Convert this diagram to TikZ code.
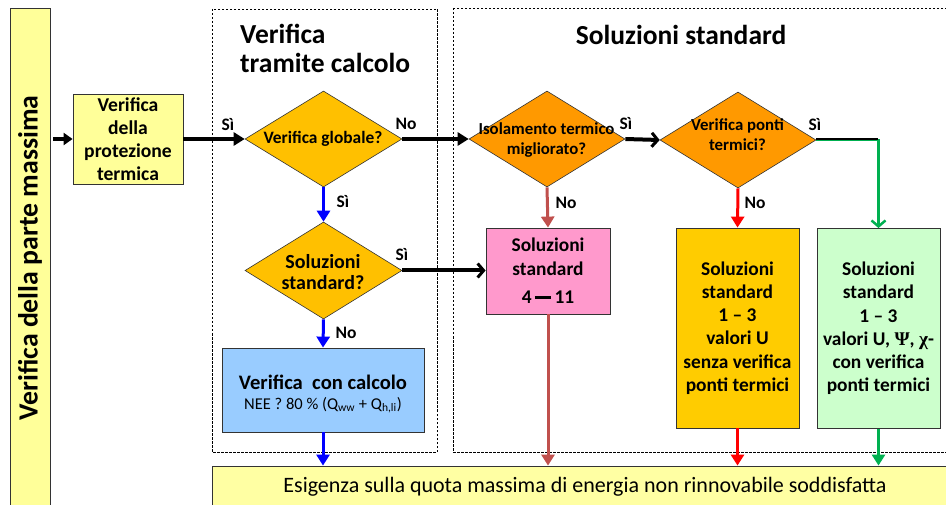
\documentclass[tikz,border=0pt]{standalone}
\usepackage{fontspec}
\setmainfont{Carlito}
\newfontfamily\grkfont{Liberation Serif}
\usetikzlibrary{arrows.meta,shapes.geometric}
\definecolor{barY}{HTML}{FFFF99}
\definecolor{botY}{HTML}{FFFFA3}
\definecolor{dGold}{HTML}{FFC000}
\definecolor{dOrange}{HTML}{FF9900}
\definecolor{bPink}{HTML}{FF99CC}
\definecolor{bGold}{HTML}{FFCC00}
\definecolor{bGreen}{HTML}{CCFFCC}
\definecolor{bBlue}{HTML}{99CCFF}
\definecolor{aBrown}{HTML}{C0504D}
\definecolor{aGreen}{HTML}{00B050}
\begin{document}
\begin{tikzpicture}[x=1pt,y=-1pt,
  box/.style={draw=black!80,line width=0.8pt,rectangle,inner sep=0pt,align=center},
  dia/.style={draw=black!80,line width=0.6pt,diamond,inner sep=0pt},
  dtext/.style={align=center,font=\fontsize{16.8}{20}\selectfont\bfseries},
  lab/.style={font=\fontsize{17.5}{20}\selectfont\bfseries},
  dashbox/.style={draw=black,line width=0.6pt,dash pattern=on 2.5pt off 1.5pt},
  thickblk/.style={draw=black,line width=4pt},
  fillarr/.style={-{Triangle[length=11pt,width=13pt]}},
  openarr/.style={-{Straight Barb[length=6pt,width=14pt,line width=3pt]}},
  colarr/.style={line width=3pt,-{Triangle[length=11pt,width=13pt]}}
]
\useasboundingbox (0,0) rectangle (946,505);
% dashed frames
\draw[dashbox] (212,9) rectangle (437,452);
\draw[dashbox] (453,8) rectangle (960,452);
% left bar
\node[box,fill=barY,minimum width=40pt,minimum height=507pt] (bar) at (30,261.5) {};
\node[rotate=90,font=\fontsize{27.8}{30}\selectfont\bfseries] (bartxt) at (30,258) {Verifica della parte massima};
% bottom bar
\node[box,fill=botY,minimum width=748pt,minimum height=50pt] (bot) at (586,491) {};
\node[font=\fontsize{22}{26}\selectfont] (bottxt) at (585,487) {Esigenza sulla quota massima di energia non rinnovabile soddisfatta};
% titles
\node[anchor=base west,font=\fontsize{27.5}{30}\selectfont\bfseries,inner sep=0pt] (t1a) at (240,43.5) {Verifica};
\node[anchor=base west,font=\fontsize{27.5}{30}\selectfont\bfseries,inner sep=0pt] (t1b) at (240,73) {tramite calcolo};
\node[anchor=base,font=\fontsize{27.5}{30}\selectfont\bfseries,inner sep=0pt] (t2) at (681,45) {Soluzioni standard};
% box 1
\node[box,fill=barY,minimum width=110pt,minimum height=90pt,font=\fontsize{19.6}{23}\selectfont\bfseries] (b1) at (128,139) {Verifica\\della\\protezione\\termica};
% diamonds
\node[dia,fill=dGold,minimum width=157pt,minimum height=96pt] (d1) at (323.5,139) {};
\node[dtext,font=\fontsize{17.4}{20}\selectfont\bfseries] (d1t) at (323,139) {Verifica globale?};
\node[dia,fill=dOrange,minimum width=156pt,minimum height=96pt] (d2) at (547,139) {};
\node[dtext] (d2t) at (546.5,140) {Isolamento termico\\migliorato?};
\node[dia,fill=dOrange,minimum width=156pt,minimum height=96pt] (d3) at (738,140) {};
\node[dtext] (d3t) at (737.5,135) {Verifica ponti\\termici?};
\node[dia,fill=dGold,minimum width=157pt,minimum height=97pt] (d4) at (323.5,270.5) {};
\node[dtext,font=\fontsize{20}{21.5}\selectfont\bfseries] (d4t) at (323,272) {Soluzioni\\standard?};
% result boxes
\node[box,fill=bPink,minimum width=124pt,minimum height=86pt,font=\fontsize{19.4}{24}\selectfont\bfseries] (pk) at (548,271) {Soluzioni\\standard\\[4pt]4\,\raisebox{0.27em}{\rule{0.85em}{0.14em}}\,11};
\node[box,fill=bGold,minimum width=123pt,minimum height=200pt,font=\fontsize{19.4}{23.2}\selectfont\bfseries] (yb) at (737.5,328) {Soluzioni\\standard\\1 -- 3\\valori U\\senza verifica\\ponti termici};
\node[box,fill=bGreen,minimum width=123pt,minimum height=200pt,font=\fontsize{19.4}{23.2}\selectfont\bfseries] (gb) at (878.5,328.5) {Soluzioni\\standard\\1 -- 3\\valori U, {\grkfont Ψ}, {\grkfont χ}-\\con verifica\\ponti termici};
\node[box,fill=bBlue,minimum width=202pt,minimum height=84pt] (bl) at (323,390) {};
\node[font=\fontsize{20.6}{24}\selectfont\bfseries] (blt1) at (323,382) {Verifica\ \ con calcolo};
\node[font=\fontsize{16.5}{19}\selectfont] (blt2) at (323,405) {NEE ? 80 \% (Q\textsubscript{ww} + Q\textsubscript{h,li})};
% connectors
\draw[thickblk,line width=4pt,-{Triangle[length=9pt,width=12pt]}] ([xshift=3pt]bar.east |- b1.west) -- (b1.west);
\draw[thickblk,fillarr] (b1.east) -- (d1.west);
\draw[thickblk,fillarr] (d1.east) -- (d2.west);
\draw[thickblk,openarr] (d2.east) -- (d3.west);
\draw[thickblk,openarr] (d4.east) -- (d4.east -| pk.west);
\coordinate (gk) at (gb.north |- d3.east);
\draw[aGreen,line width=2.5pt,-{Straight Barb[length=6pt,width=14pt,line width=2.5pt]}] (d3.east) -- (gk) -- (gb.north);
\draw[black,line width=1.6pt] ([yshift=0.8pt]d3.east) -- ([yshift=0.8pt,xshift=-1pt]gk);
\draw[aBrown,colarr] (d2.south) -- (pk.north);
\draw[red,colarr] (d3.south) -- (yb.north);
\draw[blue,colarr] (d1.south) -- (d4.north);
\draw[blue,colarr] (d4.south) -- (bl.north);
\draw[blue,colarr] (bl.south) -- (bl.south |- bot.north);
\draw[aBrown,colarr] (pk.south) -- (pk.south |- bot.north);
\draw[red,colarr] (yb.south) -- (yb.south |- bot.north);
\draw[aGreen,colarr] (gb.south) -- (gb.south |- bot.north);
% labels
\node[lab] (l1) at (228,125) {Sì};
\node[lab] (l2) at (406,124) {No};
\node[lab] (l3) at (626,124) {Sì};
\node[lab] (l4) at (815,125) {Sì};
\node[lab] (l5) at (566,203) {No};
\node[lab] (l6) at (755,203) {No};
\node[lab] (l7) at (343,202) {Sì};
\node[lab] (l8) at (402,255) {Sì};
\node[lab] (l9) at (346,333) {No};
\end{tikzpicture}
\end{document}
